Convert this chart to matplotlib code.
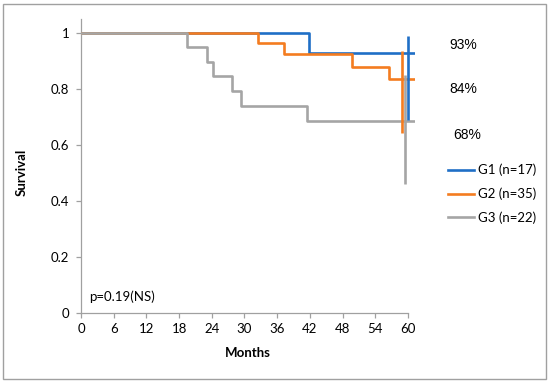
import matplotlib
matplotlib.use('Agg')
import matplotlib.pyplot as plt
from matplotlib.patches import Rectangle

plt.rcParams['font.family'] = ['Lato', 'DejaVu Sans']

# step curves (months, survival)
g1_t = [0, 41.9, 61.3]
g1_s = [1, 0.929, 0.929]
g2_t = [0, 32.4, 37.3, 49.7, 56.6, 61.3]
g2_s = [1, 0.963, 0.924, 0.88, 0.836, 0.836]
g3_t = [0, 19.4, 23.2, 24.2, 27.8, 29.4, 41.5, 61.3]
g3_s = [1, 0.951, 0.898, 0.846, 0.794, 0.74, 0.686, 0.686]

# vertical bars at the end (x, low, high)
g1_bar = (60.0, 0.689, 0.989)
g2_bar = (59.0, 0.644, 0.937)
g3_bar = (59.5, 0.46, 0.85)

labels = ['G1 (n=17)', 'G2 (n=35)', 'G3 (n=22)']
pct_labels = ['93%', '84%', '68%']
colors = ['#1f6fc6', '#f47c20', '#a5a5a5']

fig = plt.figure(figsize=(5.5, 3.82), dpi=100)
ax = fig.add_axes([81/550, 69/382, (415-81)/550, (313-19)/382])

lw = 1.9
ax.plot(g1_t, g1_s, drawstyle='steps-post', color=colors[0], lw=lw, label=labels[0], zorder=2)
ax.plot(g2_t, g2_s, drawstyle='steps-post', color=colors[1], lw=lw, label=labels[1], zorder=3)
ax.plot(g3_t, g3_s, drawstyle='steps-post', color=colors[2], lw=lw, label=labels[2], zorder=4)
for bar, c, z in zip([g1_bar, g2_bar, g3_bar], colors, [5, 6, 7]):
    ax.vlines(bar[0], bar[1], bar[2], color=c, lw=lw, zorder=z)

ax.set_xlim(0, 61.3)
ax.set_ylim(0, 1.05)
ax.set_xticks(range(0, 61, 6))
ax.set_yticks([0, 0.2, 0.4, 0.6, 0.8, 1])
ax.set_yticklabels(['0', '0.2', '0.4', '0.6', '0.8', '1'])
ax.spines['top'].set_visible(False)
ax.spines['right'].set_visible(False)
ax.spines['bottom'].set_bounds(0, 60)
for s in ['left', 'bottom']:
    ax.spines[s].set_color('#a0a0a0')
    ax.spines[s].set_linewidth(0.9)
ax.tick_params(axis='both', colors='#a0a0a0', labelcolor='black', labelsize=9.5, length=3.5, width=0.9)
ax.tick_params(axis='x', pad=4)
ax.tick_params(axis='y', pad=5)

ax.set_xlabel('Months', fontsize=9.5, fontweight='bold')
ax.xaxis.label.set_va('center')
ax.xaxis.set_label_coords(0.5, (313 - 353) / 294)
ax.set_ylabel('Survival', fontsize=9.5, fontweight='bold')
ax.yaxis.label.set_va('center')
ax.yaxis.set_label_coords((22 - 81) / 334, (313 - 172) / 294)

ax.text(1.5, 0.057, 'p=0.19(NS)', fontsize=9.5, va='center', ha='left')

# percentages at the right
pfont = dict(fontsize=10, ha='center', va='center', family='Liberation Sans')
fig.text(463/550, 1 - 45/382, pct_labels[0], **pfont)
fig.text(463/550, 1 - 89/382, pct_labels[1], **pfont)
fig.text(467/550, 1 - 135/382, pct_labels[2], **pfont)

leg = fig.legend(loc='upper left', bbox_to_anchor=(436/550, 1 - 152/382), frameon=False,
                 fontsize=9.5, handlelength=2.0, handletextpad=0.3, labelspacing=0.85)

fig.patches.append(Rectangle((3/550, 3/382), 543/550, 375/382, transform=fig.transFigure,
                             fill=False, edgecolor='#a0a0a0', lw=1.0))

fig.savefig('out.png', dpi=100)
